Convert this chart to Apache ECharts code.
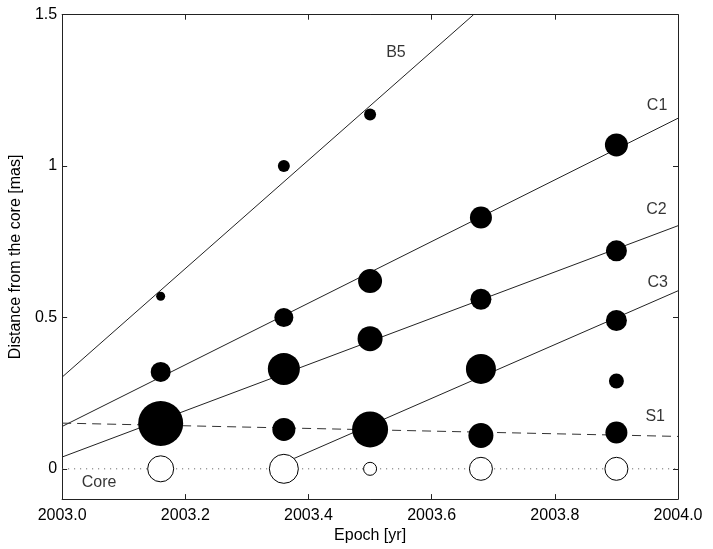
<!DOCTYPE html>
<html>
<head>
<meta charset="utf-8">
<script src="https://cdn.jsdelivr.net/npm/echarts@6/dist/echarts.min.js"></script>
<style>
  html, body { margin: 0; padding: 0; background: #fff; }
  #chart { width: 713px; height: 549px; }
</style>
</head>
<body>
<div id="chart"></div>
<script>
// epochs of the five observations
var epochs = [2003.16, 2003.36, 2003.50, 2003.68, 2003.90];

// component distances from the core [mas] (null = not seen)
var B5 = [0.57, 1.00, 1.17, null, null];
var C1 = [0.32, 0.50, 0.62, 0.83, 1.07];
var C2 = [null, 0.33, 0.43, 0.56, 0.72];
var C3 = [null, null, 0.13, 0.33, 0.49];
var S1 = [0.15, 0.13, null, 0.11, 0.12];
var extra = [null, null, null, null, 0.29];
var core = [0, 0, 0, 0, 0];

// relative component strength (drawn as marker diameter)
var B5Size = [9, 12, 12, null, null];
var C1Size = [20, 19, 24, 22, 23];
var C2Size = [null, 32, 25, 21, 21];
var C3Size = [null, null, 36, 30, 21];
var S1Size = [45, 23, null, 25, 22];
var extraSize = [null, null, null, null, 15];
var coreSize = [26, 29, 13, 23, 23];

// linear fits: [epoch, distance] at start and end
var fitB5 = [[2003.0, 0.303], [2003.668, 1.5]];
var fitC1 = [[2003.0, 0.140], [2004.0, 1.158]];
var fitC2 = [[2003.0, 0.039], [2004.0, 0.803]];
var fitC3 = [[2003.338, 0.0], [2004.0, 0.588]];
var fitS1 = [[2003.0, 0.151], [2004.0, 0.107]];
var coreLine = [[2003.0, 0], [2004.0, 0]];

// component names and where they are written
var labelNames = ["B5", "C1", "C2", "C3", "S1", "Core"];
var labelEpochs = [2003.542, 2003.966, 2003.965, 2003.967, 2003.963, 2003.06];
var labelDist = [1.374, 1.201, 0.855, 0.615, 0.173, -0.045];

var xTicks = [2003.0, 2003.2, 2003.4, 2003.6, 2003.8, 2004.0];
var yTicks = [0, 0.5, 1, 1.5];

var FONT = "Liberation Sans";

function points(vals, sizes) {
  var out = [];
  for (var i = 0; i < epochs.length; i++) {
    if (vals[i] == null) continue;
    out.push({ value: [epochs[i], vals[i]], symbolSize: sizes[i] });
  }
  return out;
}

function fitLine(data, type, color) {
  return {
    type: "line", data: data, symbol: "none", silent: true,
    lineStyle: { color: color || "#222", width: 1, type: type || "solid" },
    z: 1
  };
}

function dots(data, fill) {
  return {
    type: "scatter", data: data, silent: true, z: 3,
    itemStyle: fill
      ? { color: "#000", opacity: 1 }
      : { color: "#fff", borderColor: "#000", borderWidth: 1, opacity: 1 }
  };
}

var labelData = labelNames.map(function (n, i) {
  return { name: n, value: [labelEpochs[i], labelDist[i]] };
});

var chart = echarts.init(document.getElementById("chart"), null, { renderer: "canvas" });

var axisLineStyle = { color: "#222", width: 1 };

chart.setOption({
  backgroundColor: "#fff",
  animation: false,
  grid: { left: 57, right: 35, top: 14.7, bottom: 45.7, containLabel: false },
  xAxis: [{
    type: "value", min: 2003, max: 2004,
    name: "Epoch [yr]", nameLocation: "middle", nameGap: 26,
    nameTextStyle: { fontFamily: FONT, fontSize: 16, color: "#000" },
    axisLine: { onZero: false, lineStyle: axisLineStyle },
    axisTick: { inside: true, length: 5, customValues: xTicks, lineStyle: axisLineStyle },
    axisLabel: {
      customValues: xTicks, margin: 8,
      fontFamily: FONT, fontSize: 16, color: "#000",
      formatter: function (v) { return v.toFixed(1); }
    },
    splitLine: { show: false }
  }, {
    type: "value", min: 2003, max: 2004, position: "top",
    axisLine: { onZero: false, lineStyle: axisLineStyle },
    axisTick: { inside: true, length: 5, customValues: xTicks, lineStyle: axisLineStyle },
    axisLabel: { show: false },
    splitLine: { show: false }
  }],
  yAxis: [{
    type: "value", min: -0.1, max: 1.5,
    name: "Distance from the core [mas]", nameLocation: "middle", nameGap: 34,
    nameTextStyle: { fontFamily: FONT, fontSize: 16, color: "#000" },
    axisLine: { onZero: false, lineStyle: axisLineStyle },
    axisTick: { inside: true, length: 5, customValues: yTicks, lineStyle: axisLineStyle },
    axisLabel: {
      customValues: yTicks, margin: 5,
      fontFamily: FONT, fontSize: 16, color: "#000"
    },
    splitLine: { show: false }
  }, {
    type: "value", min: -0.1, max: 1.5, position: "right",
    axisLine: { onZero: false, lineStyle: axisLineStyle },
    axisTick: { inside: true, length: 5, customValues: yTicks, lineStyle: axisLineStyle },
    axisLabel: { show: false },
    splitLine: { show: false }
  }],
  series: [
    fitLine(coreLine, [1, 5], "#555"),
    fitLine(fitB5),
    fitLine(fitC1),
    fitLine(fitC2),
    fitLine(fitC3),
    fitLine(fitS1, [9, 6], "#333"),
    dots(points(B5, B5Size), true),
    dots(points(C1, C1Size), true),
    dots(points(C2, C2Size), true),
    dots(points(C3, C3Size), true),
    dots(points(S1, S1Size), true),
    dots(points(extra, extraSize), true),
    dots(points(core, coreSize), false),
    {
      type: "scatter", data: labelData, symbolSize: 0, silent: true, z: 4,
      label: {
        show: true, position: "inside", formatter: "{b}",
        fontFamily: FONT, fontSize: 16, color: "#000"
      }
    }
  ]
});
</script>
</body>
</html>
